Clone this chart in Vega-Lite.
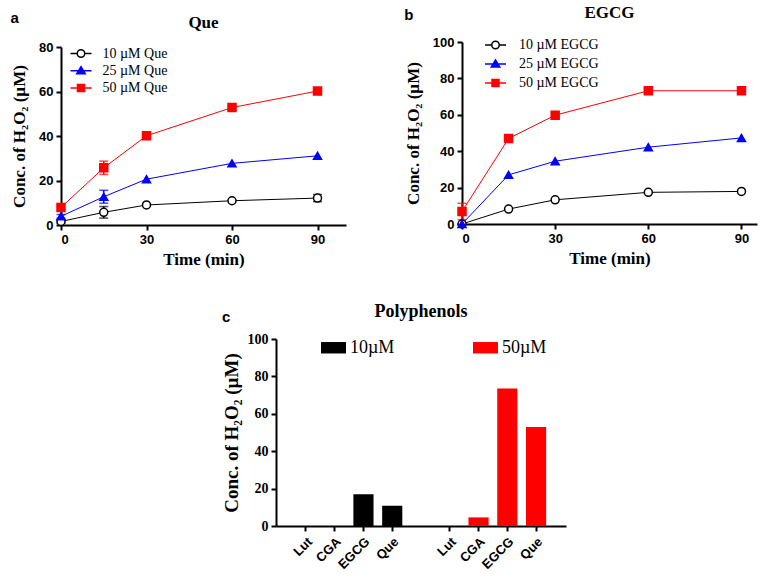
{
  "$schema": "https://vega.github.io/schema/vega-lite/v6.json",
  "background": "white",
  "padding": {"left": 10, "top": 4, "right": 2, "bottom": 2},
  "config": {
    "view": {"stroke": null},
    "axis": {"domainColor": "black", "domainWidth": 2, "tickColor": "black", "tickWidth": 2, "tickSize": 5, "labelColor": "black", "titleColor": "black", "grid": false, "labelFontWeight": "bold", "titleFontWeight": "bold", "labelFont": "Liberation Sans", "labelFontSize": 13, "titleFont": "Liberation Serif", "titleFontSize": 17, "labelPadding": 3},
    "title": {"font": "Liberation Serif", "fontSize": 17, "fontWeight": "bold", "color": "black"},
    "legend": {"labelColor": "black"}
  },
  "resolve": {"scale": {"color": "independent", "fill": "independent", "stroke": "independent", "shape": "independent"}, "legend": {"color": "independent", "fill": "independent", "stroke": "independent", "shape": "independent"}},
  "spacing": 36,
  "vconcat": [
    {
      "spacing": 58,
      "resolve": {"scale": {"color": "independent", "fill": "independent", "stroke": "independent", "shape": "independent"}, "legend": {"color": "independent", "fill": "independent", "stroke": "independent", "shape": "independent"}},
      "hconcat": [
        {
          "title": {"text": "a", "anchor": "start", "frame": "bounds", "font": "Liberation Sans", "fontSize": 15, "offset": -12},
          "vconcat": [
            {
              "title": {"text": "Que", "offset": 9},
              "width": 285,
              "height": 183,
              "data": {"values": [
                {"series": "10 µM Que", "time": 0, "value": 1.6, "err": 0.8},
                {"series": "10 µM Que", "time": 15, "value": 5.7, "err": 2.6},
                {"series": "10 µM Que", "time": 30, "value": 9.0, "err": 0},
                {"series": "10 µM Que", "time": 60, "value": 10.9, "err": 0},
                {"series": "10 µM Que", "time": 90, "value": 12.1, "err": 1.6},
                {"series": "25 µM Que", "time": 0, "value": 3.9, "err": 0.8},
                {"series": "25 µM Que", "time": 15, "value": 12.7, "err": 2.9},
                {"series": "25 µM Que", "time": 30, "value": 20.6, "err": 0},
                {"series": "25 µM Que", "time": 60, "value": 27.7, "err": 0},
                {"series": "25 µM Que", "time": 90, "value": 31.1, "err": 0},
                {"series": "50 µM Que", "time": 0, "value": 7.9, "err": 0},
                {"series": "50 µM Que", "time": 15, "value": 25.7, "err": 3.0},
                {"series": "50 µM Que", "time": 30, "value": 40.1, "err": 0},
                {"series": "50 µM Que", "time": 60, "value": 52.8, "err": 0},
                {"series": "50 µM Que", "time": 90, "value": 60.2, "err": 0}
              ]},
              "encoding": {
                "x": {"field": "time", "type": "quantitative", "scale": {"domain": [0, 100], "nice": false}, "axis": {"values": [0, 30, 60, 90], "title": "Time (min)", "titlePadding": 5}},
                "y": {"field": "value", "type": "quantitative", "scale": {"domain": [0, 80], "nice": false, "range": [183, 5]}, "axis": {"values": [0, 20, 40, 60, 80], "title": "Conc. of H₂O₂ (µM)", "titlePadding": 10}}
              },
              "layer": [
                {
                  "mark": {"type": "line", "strokeWidth": 1},
                  "encoding": {
                    "detail": {"field": "series", "type": "nominal"},
                    "stroke": {"condition": [{"test": "datum.series == '25 µM Que'", "value": "blue"}, {"test": "datum.series == '50 µM Que'", "value": "red"}], "value": "black"}
                  }
                },
                {
                  "transform": [{"filter": "datum.err > 0"}],
                  "mark": {"type": "errorbar", "ticks": {"size": 9}, "thickness": 1.5},
                  "encoding": {
                    "yError": {"field": "err"},
                    "color": {"condition": [{"test": "datum.series == '25 µM Que'", "value": "blue"}, {"test": "datum.series == '50 µM Que'", "value": "red"}], "value": "black"}
                  }
                },
                {
                  "mark": {"type": "point", "opacity": 1, "size": 64, "strokeWidth": 1.5},
                  "encoding": {
                    "shape": {"condition": [{"test": "datum.series == '25 µM Que'", "value": "triangle-up"}, {"test": "datum.series == '50 µM Que'", "value": "square"}], "value": "circle"},
                    "fill": {"condition": [{"test": "datum.series == '25 µM Que'", "value": "blue"}, {"test": "datum.series == '50 µM Que'", "value": "red"}], "value": "white"},
                    "stroke": {"condition": [{"test": "datum.series == '25 µM Que'", "value": "blue"}, {"test": "datum.series == '50 µM Que'", "value": "red"}], "value": "black"}
                  }
                },
                {
                  "mark": {"type": "point", "opacity": 0, "size": 64},
                  "encoding": {
                    "shape": {"field": "series", "type": "nominal", "scale": {"domain": ["10 µM Que", "25 µM Que", "50 µM Que"], "range": ["M-2.1,0H-0.75M0.75,0H2.1M0.75,0A0.75,0.75,0,1,1,-0.75,0A0.75,0.75,0,1,1,0.75,0Z", "M-2.1,0H2.1M0,-0.8L0.85,0.6L-0.85,0.6Z", "M-2.1,0H2.1M-0.7,-0.7H0.7V0.7H-0.7Z"]},
                      "legend": {"title": null, "orient": "none", "legendX": 13, "legendY": 4.5, "symbolSize": 100, "symbolStrokeWidth": 1.5, "symbolOpacity": 1, "labelFont": "Liberation Serif", "labelFontSize": 14, "labelFontWeight": "normal", "labelOffset": 14.5, "rowPadding": 3.2}},
                    "fill": {"field": "series", "type": "nominal", "scale": {"domain": ["10 µM Que", "25 µM Que", "50 µM Que"], "range": ["white", "blue", "red"]}},
                    "stroke": {"field": "series", "type": "nominal", "scale": {"domain": ["10 µM Que", "25 µM Que", "50 µM Que"], "range": ["black", "blue", "red"]}}
                  }
                }
              ]
            }
          ]
        },
        {
          "title": {"text": "b", "anchor": "start", "frame": "bounds", "font": "Liberation Sans", "fontSize": 15, "offset": -19},
          "vconcat": [
            {
              "title": {"text": "EGCG", "offset": 14},
              "width": 295,
              "height": 182,
              "data": {"values": [
                {"series": "10 µM EGCG", "time": 0, "value": 0, "err": 0},
                {"series": "10 µM EGCG", "time": 15, "value": 8.2, "err": 0},
                {"series": "10 µM EGCG", "time": 30, "value": 13.3, "err": 0},
                {"series": "10 µM EGCG", "time": 60, "value": 17.4, "err": 0},
                {"series": "10 µM EGCG", "time": 90, "value": 17.9, "err": 0},
                {"series": "25 µM EGCG", "time": 0, "value": 0, "err": 0},
                {"series": "25 µM EGCG", "time": 15, "value": 27.0, "err": 0},
                {"series": "25 µM EGCG", "time": 30, "value": 34.5, "err": 0},
                {"series": "25 µM EGCG", "time": 60, "value": 42.2, "err": 0},
                {"series": "25 µM EGCG", "time": 90, "value": 47.3, "err": 0},
                {"series": "50 µM EGCG", "time": 0, "value": 6.9, "err": 4.5},
                {"series": "50 µM EGCG", "time": 15, "value": 47.0, "err": 0},
                {"series": "50 µM EGCG", "time": 30, "value": 59.8, "err": 0},
                {"series": "50 µM EGCG", "time": 60, "value": 73.2, "err": 0},
                {"series": "50 µM EGCG", "time": 90, "value": 73.2, "err": 0}
              ]},
              "encoding": {
                "x": {"field": "time", "type": "quantitative", "scale": {"domain": [0, 95], "nice": false}, "axis": {"values": [0, 30, 60, 90], "title": "Time (min)", "titlePadding": 5}},
                "y": {"field": "value", "type": "quantitative", "scale": {"domain": [0, 100], "nice": false}, "axis": {"values": [0, 20, 40, 60, 80, 100], "title": "Conc. of H₂O₂ (µM)", "titlePadding": 10}}
              },
              "layer": [
                {
                  "mark": {"type": "line", "strokeWidth": 1},
                  "encoding": {
                    "detail": {"field": "series", "type": "nominal"},
                    "stroke": {"condition": [{"test": "datum.series == '25 µM EGCG'", "value": "blue"}, {"test": "datum.series == '50 µM EGCG'", "value": "red"}], "value": "black"}
                  }
                },
                {
                  "transform": [{"filter": "datum.err > 0"}],
                  "mark": {"type": "errorbar", "ticks": {"size": 9}, "thickness": 1.5},
                  "encoding": {
                    "yError": {"field": "err"},
                    "color": {"condition": [{"test": "datum.series == '25 µM EGCG'", "value": "blue"}, {"test": "datum.series == '50 µM EGCG'", "value": "red"}], "value": "black"}
                  }
                },
                {
                  "mark": {"type": "point", "opacity": 1, "size": 64, "strokeWidth": 1.5},
                  "encoding": {
                    "shape": {"condition": [{"test": "datum.series == '25 µM EGCG'", "value": "triangle-up"}, {"test": "datum.series == '50 µM EGCG'", "value": "square"}], "value": "circle"},
                    "fill": {"condition": [{"test": "datum.series == '25 µM EGCG'", "value": "blue"}, {"test": "datum.series == '50 µM EGCG'", "value": "red"}], "value": "white"},
                    "stroke": {"condition": [{"test": "datum.series == '25 µM EGCG'", "value": "blue"}, {"test": "datum.series == '50 µM EGCG'", "value": "red"}], "value": "black"}
                  }
                },
                {
                  "mark": {"type": "point", "opacity": 0, "size": 64},
                  "encoding": {
                    "shape": {"field": "series", "type": "nominal", "scale": {"domain": ["10 µM EGCG", "25 µM EGCG", "50 µM EGCG"], "range": ["M-2.1,0H-0.75M0.75,0H2.1M0.75,0A0.75,0.75,0,1,1,-0.75,0A0.75,0.75,0,1,1,0.75,0Z", "M-2.1,0H2.1M0,-0.8L0.85,0.6L-0.85,0.6Z", "M-2.1,0H2.1M-0.7,-0.7H0.7V0.7H-0.7Z"]},
                      "legend": {"title": null, "orient": "none", "legendX": 26.5, "legendY": -4, "symbolSize": 100, "symbolStrokeWidth": 1.5, "symbolOpacity": 1, "labelFont": "Liberation Serif", "labelFontSize": 14, "labelFontWeight": "normal", "labelOffset": 16.5, "rowPadding": 5}},
                    "fill": {"field": "series", "type": "nominal", "scale": {"domain": ["10 µM EGCG", "25 µM EGCG", "50 µM EGCG"], "range": ["white", "blue", "red"]}},
                    "stroke": {"field": "series", "type": "nominal", "scale": {"domain": ["10 µM EGCG", "25 µM EGCG", "50 µM EGCG"], "range": ["black", "blue", "red"]}}
                  }
                }
              ]
            }
          ]
        }
      ]
    },
    {
      "spacing": 0,
      "resolve": {"scale": {"color": "independent", "fill": "independent", "stroke": "independent", "shape": "independent"}, "legend": {"color": "independent", "fill": "independent", "stroke": "independent", "shape": "independent"}},
      "hconcat": [
        {
          "width": 161,
          "height": 187,
          "data": {"values": []},
          "mark": {"type": "point", "opacity": 0}
        },
        {
          "title": {"text": "c", "anchor": "start", "frame": "bounds", "font": "Liberation Sans", "fontSize": 15, "offset": -22},
          "vconcat": [
            {
              "title": {"text": "Polyphenols", "fontSize": 18, "offset": 11},
              "width": 290,
              "height": 187,
              "data": {"values": [
                {"bar": "Lut 10", "compound": "Lut", "conc": "10µM", "value": 0},
                {"bar": "CGA 10", "compound": "CGA", "conc": "10µM", "value": 0},
                {"bar": "EGCG 10", "compound": "EGCG", "conc": "10µM", "value": 17.0},
                {"bar": "Que 10", "compound": "Que", "conc": "10µM", "value": 10.8},
                {"bar": "Lut 50", "compound": "Lut", "conc": "50µM", "value": 0},
                {"bar": "CGA 50", "compound": "CGA", "conc": "50µM", "value": 4.6},
                {"bar": "EGCG 50", "compound": "EGCG", "conc": "50µM", "value": 73.5},
                {"bar": "Que 50", "compound": "Que", "conc": "50µM", "value": 53.0}
              ]},
              "mark": {"type": "bar"},
              "encoding": {
                "x": {"field": "bar", "type": "nominal", "sort": null,
                  "scale": {"domain": ["Lut 10", "CGA 10", "EGCG 10", "Que 10", "gap", "Lut 50", "CGA 50", "EGCG 50", "Que 50"], "paddingInner": 0.3, "paddingOuter": 0.69},
                  "axis": {"values": ["Lut 10", "CGA 10", "EGCG 10", "Que 10", "Lut 50", "CGA 50", "EGCG 50", "Que 50"], "labelExpr": "split(datum.value, ' ')[0]", "labelAngle": -45, "labelFontSize": 13, "title": null, "labelPadding": 4}},
                "y": {"field": "value", "type": "quantitative", "scale": {"domain": [0, 100], "nice": false},
                  "axis": {"values": [0, 20, 40, 60, 80, 100], "title": "Conc. of H₂O₂ (µM)", "titleFontSize": 19, "labelFont": "Liberation Serif", "labelFontSize": 14, "titlePadding": 6}},
                "color": {"field": "conc", "type": "nominal", "scale": {"domain": ["10µM", "50µM"], "range": ["black", "red"]},
                  "legend": {"title": null, "orient": "none", "legendX": 47, "legendY": -2, "direction": "horizontal", "columnPadding": 78, "symbolSize": 433, "symbolType": "M-1.2,-0.55H1.2V0.55H-1.2Z", "symbolStrokeWidth": 0, "labelOffset": 6, "labelFont": "Liberation Serif", "labelFontSize": 18, "labelFontWeight": "normal"}}
              }
            }
          ]
        }
      ]
    }
  ]
}
